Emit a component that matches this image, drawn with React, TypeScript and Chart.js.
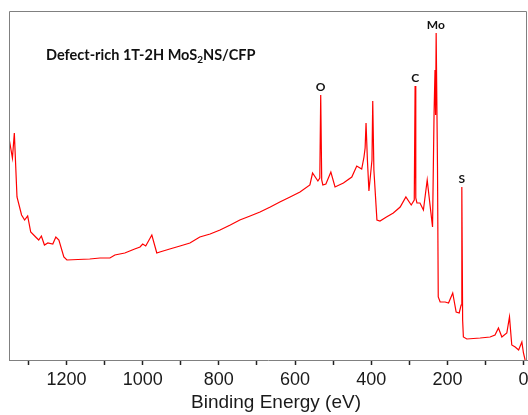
import React, { useEffect, useRef } from 'react';
import { Chart, registerables } from 'chart.js';

Chart.register(...registerables);

// Binding energy (eV)
const bindingEnergy = [
  1351, 1342, 1337, 1330, 1318, 1310, 1302, 1294, 1281, 1273,
  1266, 1258, 1249, 1236, 1228, 1220, 1207, 1199, 1170, 1139,
  1112, 1086, 1073, 1047, 1021, 1007, 1000, 992, 976, 963,
  955, 929, 902, 876, 850, 823, 797, 770, 745, 718, 692, 665, 640, 613, 587,
  561, 554, 540, 535, 532.6, 530, 527, 519, 506, 495, 473, 451,
  438, 425, 419, 416, 413.6, 410, 406, 398, 396, 393, 385, 377, 360, 342, 324,
  309, 295, 287, 284.8, 283, 280, 272, 263, 253, 245, 239, 235,
  232.5, 231, 229.5, 226, 224, 219, 206, 197, 186, 177,
  169, 164, 162.1, 160, 158, 149, 114, 88, 75, 66, 57, 44,
  37, 31, 22, 13, 4.5, 0.3, -4,
];
// Intensity (arbitrary units)
const intensity = [
  222, 202, 227, 163, 145, 140, 144, 128, 123, 120,
  124, 115, 117, 116, 123, 120, 103, 100, 100.5, 101,
  102, 102, 105, 107, 111, 113, 116, 114, 125, 107,
  108, 111, 114, 117, 123, 126, 130, 135, 140, 144, 148, 153, 158, 163, 168,
  175, 187, 179, 182, 265, 180, 175, 176, 188, 173, 177, 183,
  194, 191, 203, 212, 237, 200, 169, 200, 259, 190, 140, 139, 143, 147, 153,
  163, 155, 160, 274, 162, 157, 157, 150, 180, 153, 133, 247,
  290, 245, 327, 193, 63, 58, 58, 57, 67, 48,
  47, 55, 173, 40, 23, 21, 22, 23, 25, 32, 23, 27,
  43, 15, 13, 10, 18, 7, 0,
];

const xTickValues = [0, 100, 200, 300, 400, 500, 600, 700, 800, 900, 1000, 1100, 1200, 1300];
const xMin = -9;
const xMax = 1351;
const yMax = 349;

const peakLabels = ['O', 'C', 'Mo', 'S'];
const peakEnergies = [532.6, 284.8, 230.2, 162.1];
const peakIntensities = [265, 274, 327, 173];

const sampleLabelParts = ['Defect-rich 1T-2H MoS', '2', 'NS/CFP'];
const xTitle = 'Binding Energy (eV)';

const overlayPlugin = {
  id: 'overlay',
  afterDraw(chart: any) {
    const { ctx, chartArea, scales } = chart;
    const xs = scales.x;
    const ys = scales.y;
    ctx.save();
    // frame
    ctx.strokeStyle = '#808080';
    ctx.lineWidth = 1;
    ctx.beginPath();
    ctx.moveTo(chartArea.left + 0.5, chartArea.bottom);
    ctx.lineTo(chartArea.left + 0.5, chartArea.top + 0.5);
    ctx.lineTo(chartArea.right - 0.5, chartArea.top + 0.5);
    ctx.lineTo(chartArea.right - 0.5, chartArea.bottom);
    ctx.stroke();

    // peak labels
    ctx.fillStyle = '#111';
    ctx.font = 'bold 12px Lato';
    ctx.textAlign = 'center';
    ctx.textBaseline = 'middle';
    peakLabels.forEach((lab, i) => {
      const px = xs.getPixelForValue(peakEnergies[i]);
      const py = ys.getPixelForValue(peakIntensities[i]);
      ctx.fillText(lab, px, py - 8);
    });

    // sample label with subscript
    ctx.textAlign = 'left';
    ctx.textBaseline = 'alphabetic';
    let x = chartArea.left + 37;
    const y = chartArea.top + 49;
    ctx.font = 'bold 14.5px Lato';
    ctx.fillText(sampleLabelParts[0], x, y);
    x += ctx.measureText(sampleLabelParts[0]).width;
    ctx.font = 'bold 10px Lato';
    ctx.fillText(sampleLabelParts[1], x, y + 3);
    x += ctx.measureText(sampleLabelParts[1]).width;
    ctx.font = 'bold 14.5px Lato';
    ctx.fillText(sampleLabelParts[2], x, y);

    // x title
    ctx.font = '19px "Liberation Sans"';
    ctx.textAlign = 'center';
    ctx.fillStyle = '#1a1a1a';
    ctx.fillText(xTitle, (chartArea.left + chartArea.right) / 2 + 8, chartArea.bottom + 48);
    ctx.restore();
  },
};

export default function App() {
  const ref = useRef<HTMLCanvasElement | null>(null);
  useEffect(() => {
    if (!ref.current) return;
    const points = bindingEnergy.map((e, i) => ({ x: e, y: intensity[i] }));
    const chart = new Chart(ref.current, {
      type: 'line',
      data: {
        datasets: [
          {
            data: points,
            borderColor: 'rgb(255,0,0)',
            borderWidth: 1.2,
            pointRadius: 0,
            tension: 0,
            fill: false,
          },
        ],
      },
      options: {
        responsive: false,
        animation: false,
        layout: { padding: { left: 9, right: 1, top: 11, bottom: 0 } },
        plugins: { legend: { display: false }, tooltip: { enabled: false }, title: { display: false } },
        scales: {
          x: {
            type: 'linear',
            reverse: true,
            min: xMin,
            max: xMax,
            afterBuildTicks: (scale: any) => {
              scale.ticks = xTickValues.map((v) => ({ value: v }));
            },
            afterFit: (scale: any) => {
              scale.height = 55;
              scale.paddingLeft = 0;
              scale.paddingRight = 0;
            },
            ticks: {
              includeBounds: false,
              autoSkip: false,
              maxRotation: 0,
              minRotation: 0,
              padding: 4,
              color: '#1a1a1a',
              font: { family: 'Liberation Sans', size: 18 },
              callback: (v: any) => (Number(v) % 200 === 0 ? String(v) : ''),
            },
            grid: {
              drawOnChartArea: false,
              drawTicks: true,
              tickLength: 5,
              tickColor: '#222',
              tickWidth: 1.5,
            },
            border: { color: '#808080', width: 1 },
          },
          y: {
            display: false,
            min: 0,
            max: yMax,
          },
        },
      },
      plugins: [overlayPlugin],
    });
    return () => chart.destroy();
  }, []);
  return (
    <div style={{ position: 'absolute', left: 0, top: 0, width: 528, height: 415, background: '#fff' }}>
      <canvas ref={ref} width={528} height={415} />
    </div>
  );
}
